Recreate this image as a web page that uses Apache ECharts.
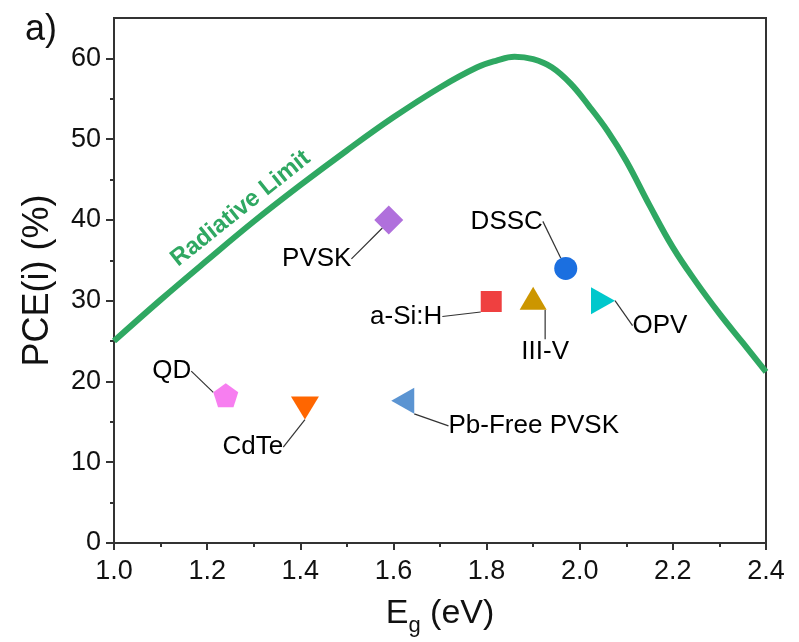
<!DOCTYPE html>
<html>
<head>
<meta charset="utf-8">
<script src="https://cdn.jsdelivr.net/npm/echarts@6/dist/echarts.min.js"></script>
<style>
  html, body { margin: 0; padding: 0; background: #fff; }
  #chart { width: 799px; height: 642px; }
</style>
</head>
<body>
<div id="chart"></div>
<script>
// Radiative-limit efficiency curve vs. band gap
const curveEg  = [1.0, 1.1, 1.2, 1.3, 1.4, 1.5, 1.6, 1.7, 1.78, 1.82, 1.86, 1.9, 1.94, 1.98, 2.02, 2.06, 2.1, 2.15, 2.2, 2.25, 2.3, 2.35, 2.4];
const curvePce = [25.0, 30.1, 35.0, 39.8, 44.3, 48.6, 52.7, 56.4, 58.9, 59.7, 60.2, 59.9, 58.9, 56.9, 54.1, 51.0, 47.3, 41.8, 36.6, 32.3, 28.4, 24.8, 21.2];

// Record devices per technology
const techNames = ['PVSK', 'DSSC', 'a-Si:H', 'III-V', 'OPV', 'QD', 'CdTe', 'Pb-Free PVSK'];
const techEg    = [1.59, 1.97, 1.81, 1.90, 2.05, 1.24, 1.41, 1.62];
const techPce   = [40.0, 34.0, 29.9, 30.3, 30.0, 18.3, 16.7, 17.6];

// Axis ticks
const xTicks = [1.0, 1.2, 1.4, 1.6, 1.8, 2.0, 2.2, 2.4];
const yTicks = [0, 10, 20, 30, 40, 50, 60];
const yMinorTicks = [5, 15, 25, 35, 45, 55];

const FONT = '"Liberation Sans", Arial, Helvetica, sans-serif';
const pentagon = 'path://M0,-1 L0.951,-0.309 L0.588,0.809 L-0.588,0.809 L-0.951,-0.309 Z';

// Marker appearance and label placement (pixel offsets of each label from its marker)
const markerStyle = {
  'PVSK':         { symbol: 'diamond',  size: [29, 29], rotate: 0,   color: '#B070DC', label: [-72, 39] },
  'DSSC':         { symbol: 'circle',   size: [23, 23], rotate: 0,   color: '#1B6FE0', label: [-59, -47] },
  'a-Si:H':       { symbol: 'rect',     size: [21, 21], rotate: 0,   color: '#EF4040', label: [-85, 15] },
  'III-V':        { symbol: 'triangle', size: [27, 23], rotate: 0,   color: '#CC9600', label: [12, 54] },
  'OPV':          { symbol: 'triangle', size: [27, 24], rotate: -90, color: '#00C8CC', label: [57, 25] },
  'QD':           { symbol: pentagon,   size: [25, 24], rotate: 0,   color: '#F77EF0', label: [-54, -24] },
  'CdTe':         { symbol: 'triangle', size: [28, 23], rotate: 180, color: '#FF6600', label: [-52, 39] },
  'Pb-Free PVSK': { symbol: 'triangle', size: [26, 23], rotate: 90,  color: '#5B94D2', label: [131, 25] }
};

const scatterData = techNames.map((name, i) => {
  const s = markerStyle[name];
  return {
    name: name,
    value: [techEg[i], techPce[i]],
    symbol: s.symbol,
    symbolSize: s.size,
    symbolRotate: s.rotate,
    itemStyle: { color: s.color, opacity: 1 }
  };
});

const chart = echarts.init(document.getElementById('chart'), null, { renderer: 'canvas' });

chart.setOption({
  animation: false,
  title: {
    text: 'a)',
    left: 20,
    top: 7,
    textStyle: { fontFamily: FONT, fontSize: 36, fontWeight: 'normal', color: '#111' }
  },
  grid: {
    left: 114, right: 33, top: 18, bottom: 96,
    show: true, borderColor: '#333', borderWidth: 2, backgroundColor: 'transparent'
  },
  xAxis: {
    type: 'value',
    min: 1.0, max: 2.4, interval: 0.2,
    name: '{a|E}{b|g}{a| (eV)}',
    nameLocation: 'middle',
    nameGap: 48,
    nameTextStyle: {
      rich: {
        a: { fontFamily: FONT, fontSize: 34, color: '#111', lineHeight: 46 },
        b: { fontFamily: FONT, fontSize: 22, color: '#111', lineHeight: 22, verticalAlign: 'bottom' }
      }
    },
    axisLine: { lineStyle: { color: '#333', width: 2 } },
    axisTick: { inside: false, length: 7, lineStyle: { color: '#333', width: 2 } },
    minorTick: { show: true, splitNumber: 2, length: 4, lineStyle: { color: '#333', width: 2 } },
    splitLine: { show: false },
    axisLabel: {
      margin: 15,
      fontFamily: FONT, fontSize: 27, color: '#111',
      formatter: v => Number(v).toFixed(1)
    }
  },
  yAxis: [
    {
      type: 'value',
      min: 0, max: 65, interval: 10,
      name: 'PCE(i) (%)',
      nameLocation: 'middle',
      nameGap: 58,
      nameTextStyle: { fontFamily: FONT, fontSize: 36, color: '#111' },
      axisLine: { show: true, lineStyle: { color: '#333', width: 2 } },
      axisTick: { show: true, inside: false, length: 8, customValues: yTicks, lineStyle: { color: '#333', width: 2 } },
      splitLine: { show: false },
      axisLabel: {
        margin: 13,
        customValues: yTicks,
        fontFamily: FONT, fontSize: 27, color: '#111'
      }
    },
    {
      type: 'value',
      min: 0, max: 65, interval: 5,
      position: 'left',
      axisLine: { show: false },
      axisTick: { show: true, inside: false, length: 4, customValues: yMinorTicks, lineStyle: { color: '#333', width: 2 } },
      axisLabel: { show: false },
      splitLine: { show: false }
    }
  ],
  series: [
    {
      name: 'Radiative Limit',
      type: 'line',
      data: curveEg.map((e, i) => [e, curvePce[i]]),
      smooth: 0.4,
      showSymbol: false,
      symbol: 'none',
      lineStyle: { color: '#2FA862', width: 6 },
      z: 2,
      markPoint: {
        symbol: 'circle',
        symbolSize: 0,
        data: [{ coord: [1.272, 41.4], value: 0 }],
        label: {
          show: true,
          position: 'inside',
          formatter: 'Radiative Limit',
          rotate: 38.6,
          fontFamily: FONT, fontSize: 24, fontWeight: 'bold', color: '#2FA862'
        }
      }
    },
    {
      name: 'Devices',
      type: 'scatter',
      data: scatterData,
      z: 3,
      label: {
        show: true,
        position: 'inside',
        formatter: p => p.name,
        fontFamily: FONT, fontSize: 26, color: '#000', textBorderWidth: 0, opacity: 1
      },
      labelLayout: p => {
        const off = markerStyle[techNames[p.dataIndex]].label;
        return { dx: off[0], dy: off[1], hideOverlap: false };
      },
      labelLine: { show: true, lineStyle: { color: '#333', width: 1.2 } }
    }
  ]
});
</script>
</body>
</html>
